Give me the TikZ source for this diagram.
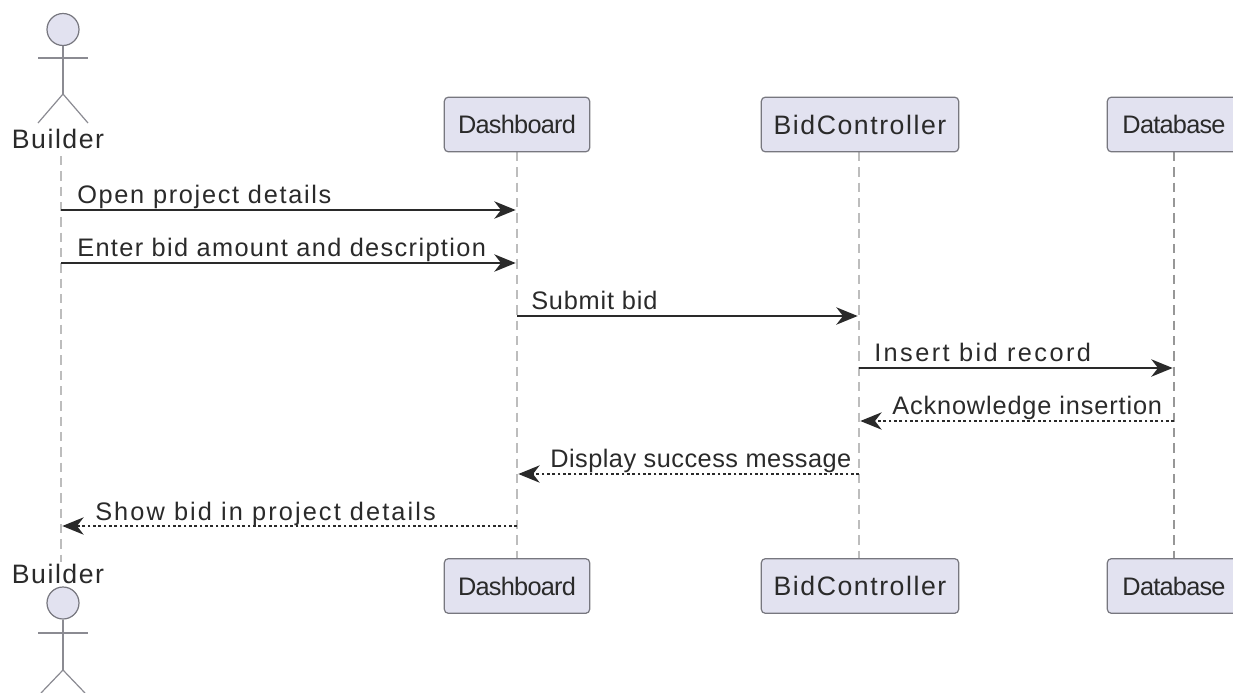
\documentclass[tikz,border=0pt]{standalone}
\usepackage{fontspec}
\setmainfont{Liberation Sans}
\newfontfamily\boxfont[LetterSpace=-3]{Liberation Sans}
\newfontfamily\ctlfont[LetterSpace=5.8]{Liberation Sans}
\newfontfamily\msgfont{Liberation Sans}
\usetikzlibrary{arrows.meta}
\newcommand{\ls}[1]{\addfontfeature{LetterSpace=#1}}
\definecolor{pfill}{HTML}{E2E2F0}
\definecolor{pline}{HTML}{77777F}
\definecolor{life}{HTML}{BDBDBD}
\definecolor{ink}{HTML}{2A2A2A}
\tikzset{
  x=0.75pt,y=-0.75pt,
  part/.style={draw=pline,fill=pfill,rounded corners=3pt,line width=0.9pt,inner sep=0pt,minimum height=41pt,text=ink,font=\fontsize{19}{22}\selectfont\boxfont},
  ctl/.style={part,font=\fontsize{20}{24}\selectfont\ctlfont},
  lifeline/.style={draw=life,line width=1.5pt,dash pattern=on 7pt off 4.5pt},
  msg/.style={draw=ink,line width=1.4pt,-{Stealth[length=16pt,width=13pt,inset=5pt]},shorten >=1pt},
  rep/.style={draw=ink,line width=1pt,dash pattern=on 2pt off 2pt,-{Stealth[length=16pt,width=13pt,inset=5pt,sep=0pt]},shorten >=1pt},
  lbl/.style={anchor=base west,inner sep=0pt,text=ink,font=\fontsize{19}{22}\selectfont\msgfont},
  actorlbl/.style={anchor=base,inner sep=0pt,text=ink,font=\fontsize{20}{24}\selectfont\ctlfont},
  stick/.style={draw=pline!85!white,line width=0.9pt},
  head/.style={draw=pline,fill=pfill,line width=0.9pt,circle,minimum size=24pt,inner sep=0pt},
}
\begin{document}
\begin{tikzpicture}
\useasboundingbox (0,0) rectangle (1233,693);
\fill[white] (0,0) rectangle (1233,693);
% lifeline ends
\coordinate (la1) at (61,156); \coordinate (la2) at (61,562);
\coordinate (dl1) at (517,152); \coordinate (dl2) at (517,559);
\coordinate (cl1) at (859,152); \coordinate (cl2) at (859,559);
\coordinate (bl1) at (1174,152); \coordinate (bl2) at (1174,559);
\draw[lifeline] (la1) -- (la2);
\draw[lifeline] (dl1) -- (dl2);
\draw[lifeline] (cl1) -- (cl2);
\draw[lifeline,line width=1.1pt,draw=life!80!black] (bl1) -- (bl2);
% top participants
\node[head] (ahead) at (63,29.5) {};
\node[actorlbl] (atop) at (58,148.5) {Builder};
\node[part,minimum width=109pt] (dtop) at (517,124.5) {Dashboard};
\node[ctl,minimum width=148pt] (ctop) at (860,124.5) {BidController};
\node[part,minimum width=100pt] (btop) at (1174,124.5) {Database};
% bottom participants
\node[actorlbl] (abot) at (58,583.5) {Builder};
\node[head] (bhead) at (63,603) {};
\node[part,minimum width=109pt] (dbot) at (517,586) {Dashboard};
\node[ctl,minimum width=148pt] (cbot) at (860,586) {BidController};
\node[part,minimum width=100pt] (bbot) at (1174,586) {Database};
% actor figures
\coordinate (tw) at (63,94);
\coordinate (ta1) at (38,58); \coordinate (ta2) at (88,58);
\coordinate (tl1) at (38,123); \coordinate (tl2) at (88,123);
\draw[stick] (ahead.south) -- (tw);
\draw[stick] (ta1) -- (ta2);
\draw[stick] (tl1) -- (tw) -- (tl2);
\coordinate (bw) at (63,670);
\coordinate (ba1) at (38,633); \coordinate (ba2) at (88,633);
\coordinate (bl3) at (41,693); \coordinate (bl4) at (85,693);
\draw[stick] (bhead.south) -- (bw);
\draw[stick] (ba1) -- (ba2);
\draw[stick] (bl3) -- (bw) -- (bl4);
% messages
\foreach \y/\n in {210/1,263/2,316/3,368/4,421/5,474/6,526/7}{
  \coordinate (a\n) at (61,\y);
  \coordinate (d\n) at (517,\y);
  \coordinate (c\n) at (859,\y);
  \coordinate (b\n) at (1174,\y);
}
\draw[msg] (a1) -- (d1);
\draw[msg] (a2) -- (d2);
\draw[msg] (d3) -- (c3);
\draw[msg] (c4) -- (b4);
\draw[rep] (b5) -- (c5);
\draw[rep] (c6) -- (d6);
\draw[rep] (d7) -- (a7);
% labels
\node[lbl] (m1) at (77,203) {\ls{6.7}Open project details};
\node[lbl] (m2) at (77,256) {\ls{5.4}Enter bid amount and description};
\node[lbl] (m3) at (531,309) {\ls{3.2}Submit bid};
\node[lbl] (m4) at (874,361) {\ls{9.5}Insert bid record};
\node[lbl] (m5) at (892,414) {\ls{3.4}Acknowledge insertion};
\node[lbl] (m6) at (550,467) {\ls{1.9}Display success message};
\node[lbl] (m7) at (95,520) {\ls{8.3}Show bid in project details};
\end{tikzpicture}
\end{document}
